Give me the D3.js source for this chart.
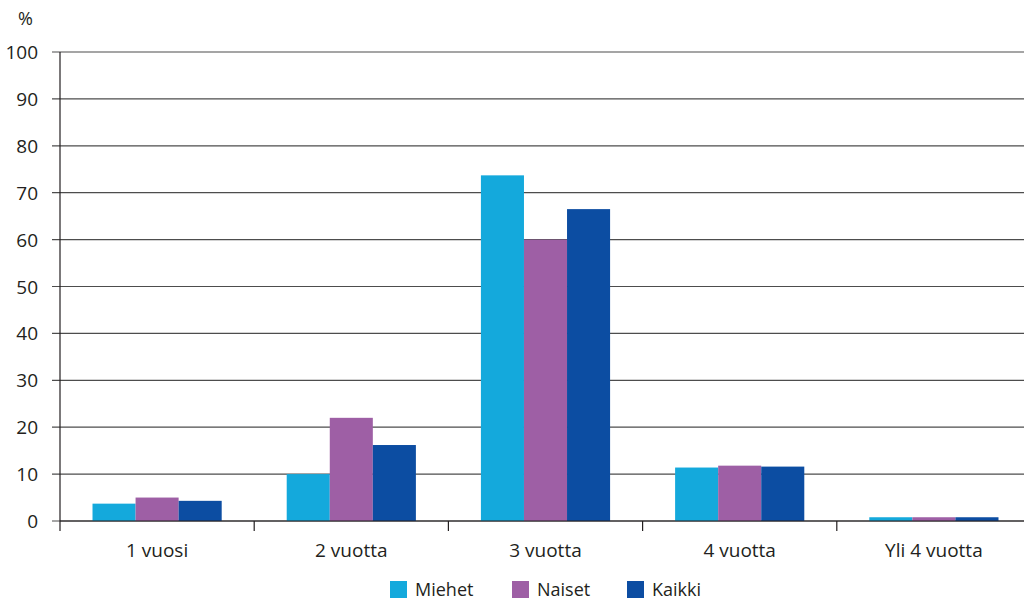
<html>
<head>
	<script src="https://d3js.org/d3.v7.min.js"></script>
	<style>
		body { margin: 0; background: #fff; }
		text { font-family: "Open Sans", sans-serif; fill: #231f20; }
	</style>
</head>
<body>
	<script>
		var categories = ["1 vuosi", "2 vuotta", "3 vuotta", "4 vuotta", "Yli 4 vuotta"];
		var seriesNames = ["Miehet", "Naiset", "Kaikki"];
		var miehet = [3.7, 10.0, 73.7, 11.4, 0.8];
		var naiset = [5.0, 22.0, 60.0, 11.8, 0.8];
		var kaikki = [4.3, 16.2, 66.5, 11.6, 0.8];
		var colors = ["#14a9dc", "#9e5fa5", "#0c4da2"];
		var yTicks = [0, 10, 20, 30, 40, 50, 60, 70, 80, 90, 100];

		var w = 1024, h = 603;
		var mLeft = 60, mRight = 1031, mTop = 52, mBottom = 521;

		var data = categories.map(function(c, i){
			return {cat: c, vals: [miehet[i], naiset[i], kaikki[i]]};
		});

		var svg = d3.select("body").append("svg").attr("width", w).attr("height", h);

		var xScale = d3.scaleBand().domain(categories).range([mLeft, mRight]);
		var inner = d3.scaleBand().domain(d3.range(3)).range([0, xScale.bandwidth()]).paddingOuter(0.755);
		var yScale = d3.scaleLinear().domain([0, 100]).range([mBottom, mTop]);

		// grid lines
		svg.selectAll("line.grid").data(yTicks).enter().append("line")
			.attr("x1", mLeft - 8).attr("x2", w)
			.attr("y1", function(d){ return yScale(d); })
			.attr("y2", function(d){ return yScale(d); })
			.attr("stroke", "#4d4d4d").attr("stroke-width", 1.2);

		svg.selectAll("text.ytick").data(yTicks).enter().append("text")
			.attr("x", 38).attr("y", function(d){ return yScale(d) + 7; })
			.attr("text-anchor", "end").attr("font-size", 19)
			.text(function(d){ return d; });

		svg.append("text").attr("x", 18).attr("y", 25).attr("font-size", 18).text("%");

		// bars
		var groups = svg.selectAll("g.cat").data(data).enter().append("g")
			.attr("transform", function(d){ return "translate(" + xScale(d.cat) + ",0)"; });
		groups.selectAll("rect").data(function(d){ return d.vals; }).enter().append("rect")
			.attr("x", function(d, i){ return inner(i); })
			.attr("width", inner.bandwidth())
			.attr("y", function(d){ return yScale(d); })
			.attr("height", function(d){ return mBottom - yScale(d); })
			.attr("fill", function(d, i){ return colors[i]; });

		// axes lines
		svg.append("line").attr("x1", mLeft).attr("x2", mLeft).attr("y1", mTop).attr("y2", mBottom + 10)
			.attr("stroke", "#231f20").attr("stroke-width", 1.2);
		svg.append("line").attr("x1", mLeft).attr("x2", w).attr("y1", mBottom).attr("y2", mBottom)
			.attr("stroke", "#231f20").attr("stroke-width", 1.2);
		svg.selectAll("line.xtick").data(categories.slice(1)).enter().append("line")
			.attr("x1", function(d){ return xScale(d); }).attr("x2", function(d){ return xScale(d); })
			.attr("y1", mBottom).attr("y2", mBottom + 10)
			.attr("stroke", "#231f20").attr("stroke-width", 1.2);

		svg.selectAll("text.xlab").data(categories).enter().append("text")
			.attr("x", function(d){ return xScale(d) + xScale.bandwidth() / 2; })
			.attr("y", 557).attr("text-anchor", "middle").attr("font-size", 19)
			.text(function(d){ return d; });

		// legend
		var legX = [390, 512, 627];
		var leg = svg.selectAll("g.leg").data(seriesNames).enter().append("g")
			.attr("transform", function(d, i){ return "translate(" + legX[i] + ",581)"; });
		leg.append("rect").attr("width", 17).attr("height", 17)
			.attr("fill", function(d, i){ return colors[i]; });
		leg.append("text").attr("x", 25).attr("y", 15).attr("font-size", 18)
			.text(function(d){ return d; });
	</script>
</body>
</html>
